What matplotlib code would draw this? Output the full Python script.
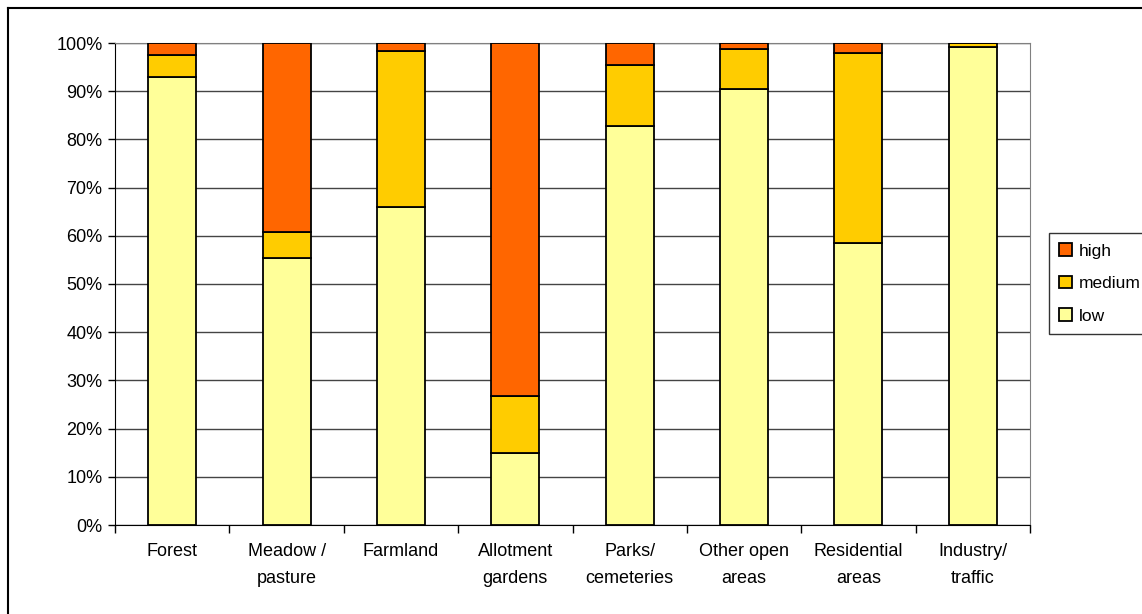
import numpy as np
import matplotlib.pyplot as plt
from matplotlib.lines import Line2D

categories = ["Forest", "Meadow /\npasture", "Farmland", "Allotment\ngardens",
              "Parks/\ncemeteries", "Other open\nareas", "Residential\nareas",
              "Industry/\ntraffic"]
low = [93.0, 55.3, 65.9, 15.0, 82.8, 90.4, 58.5, 99.2]
medium = [4.6, 5.4, 32.5, 11.7, 12.7, 8.4, 39.5, 0.7]
high = [100 - l - m for l, m in zip(low, medium)]

plt.rcParams['font.family'] = ['Liberation Sans', 'DejaVu Sans']

fig = plt.figure(figsize=(11.42, 6.14), dpi=100)
ax = fig.add_axes([115/1142, 1 - 525/614, (1030 - 115)/1142, (525 - 43)/614])

x = np.arange(len(categories))
w = 0.42
ax.bar(x, low, w, color='#FFFF99', edgecolor='black', lw=1.3, label='low', zorder=3)
ax.bar(x, medium, w, bottom=low, color='#FFCC00', edgecolor='black', lw=1.3,
       label='medium', zorder=3)
ax.bar(x, high, w, bottom=np.array(low) + np.array(medium), color='#FF6600',
       edgecolor='black', lw=1.3, label='high', zorder=3)

ax.set_xlim(-0.5, len(categories) - 0.5)
ax.set_ylim(0, 100)
ax.set_yticks(range(0, 101, 10))
ax.set_yticklabels([f"{v}%" for v in range(0, 101, 10)], fontsize=13)
ax.yaxis.grid(True, color='#444444', lw=1, zorder=0)
ax.tick_params(axis='y', length=5, width=1, direction='out', pad=4)

ax.set_xticks(x)
ax.set_xticklabels(categories, fontsize=13, linespacing=1.75)
ax.tick_params(axis='x', length=0, pad=13)
ax.set_xticks(np.arange(-0.5, len(categories)), minor=True)
ax.tick_params(axis='x', which='minor', length=6, width=1, direction='out')

for s in ['top', 'right']:
    ax.spines[s].set_color('#808080')
ax.spines['left'].set_color('black')
ax.spines['bottom'].set_color('black')

h, l = ax.get_legend_handles_labels()
leg = fig.legend(h[::-1], l[::-1], loc='upper left', bbox_to_anchor=(1049/1142, 1 - 233/614),
                 fontsize=12.5, frameon=True, fancybox=False, edgecolor='black',
                 handlelength=0.7, handleheight=0.7, handletextpad=0.4,
                 labelspacing=1.0, borderpad=0.6, borderaxespad=0)
leg.get_frame().set_linewidth(1)

# outer chart frame
fig.add_artist(Line2D([8/1142, 8/1142], [0, 1 - 8/614], color='black', lw=1.5,
                      transform=fig.transFigure))
fig.add_artist(Line2D([8/1142, 1], [1 - 8/614, 1 - 8/614], color='black', lw=1.5,
                      transform=fig.transFigure))

fig.savefig('out.png', dpi=100)
